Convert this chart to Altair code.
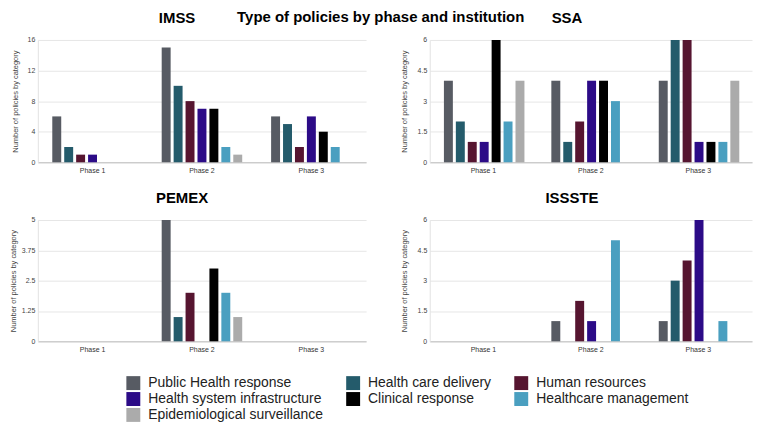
import altair as alt
import pandas as pd

phases = ["Phase 1", "Phase 2", "Phase 3"]
categories = [
    "Public Health response",
    "Health care delivery",
    "Human resources",
    "Health system infrastructure",
    "Clinical response",
    "Healthcare management",
    "Epidemiological surveillance",
]
colors = ["#575b63", "#245b6b", "#561530", "#2c0b87", "#000000", "#4a9fc0", "#ababab"]

imss_phase1 = [6, 2, 1, 1, 0, 0, 0]
imss_phase2 = [15, 10, 8, 7, 7, 2, 1]
imss_phase3 = [6, 5, 2, 6, 4, 2, 0]

ssa_phase1 = [4, 2, 1, 1, 6, 2, 4]
ssa_phase2 = [4, 1, 2, 4, 4, 3, 0]
ssa_phase3 = [4, 6, 6, 1, 1, 1, 4]

pemex_phase1 = [0, 0, 0, 0, 0, 0, 0]
pemex_phase2 = [5, 1, 2, 0, 3, 2, 1]
pemex_phase3 = [0, 0, 0, 0, 0, 0, 0]

issste_phase1 = [0, 0, 0, 0, 0, 0, 0]
issste_phase2 = [1, 0, 2, 1, 0, 5, 0]
issste_phase3 = [1, 3, 4, 6, 0, 1, 0]

imss_ticks = [0, 4, 8, 12, 16]
ssa_ticks = [0, 1.5, 3, 4.5, 6]
pemex_ticks = [0, 1.25, 2.5, 3.75, 5]
issste_ticks = [0, 1.5, 3, 4.5, 6]

y_title = "Number of policies by category"


def make_df(series):
    rows = []
    for ph, vals in zip(phases, series):
        for cat, v in zip(categories, vals):
            rows.append({"Phase": ph, "Category": cat, "Count": v})
    return pd.DataFrame(rows)


def panel(name, series, ticks, width, height, title_pad, dx):
    df = make_df(series)
    return (
        alt.Chart(df)
        .mark_bar()
        .encode(
            x=alt.X(
                "Phase:N",
                scale=alt.Scale(domain=phases, paddingInner=0.264, paddingOuter=0.132),
                axis=alt.Axis(
                    title=None, labelAngle=0, ticks=False, labelFontSize=7,
                    labelColor="#333333", labelPadding=4, domainColor="#bdbdbd",
                    grid=False,
                ),
            ),
            xOffset=alt.XOffset(
                "Category:N",
                scale=alt.Scale(domain=categories, paddingInner=0.25, paddingOuter=0),
            ),
            y=alt.Y(
                "Count:Q",
                scale=alt.Scale(domain=[ticks[0], ticks[-1]], nice=False),
                axis=alt.Axis(
                    values=ticks, format=".3~g", title=y_title, ticks=False,
                    labelFontSize=7, labelColor="#444444", labelPadding=3,
                    titleFontSize=7.5, titleFontWeight="normal", titleColor="#444444",
                    titlePadding=title_pad, gridColor="#e6e6e6", domainColor="#e2e2e2",
                ),
            ),
            color=alt.Color(
                "Category:N",
                scale=alt.Scale(domain=categories, range=colors),
                legend=alt.Legend(title=None),
            ),
        )
        .properties(
            width=width,
            height=height,
            title=alt.TitleParams(
                name, fontSize=15, fontWeight="bold", color="#000000",
                anchor="middle", frame="group", offset=10, dx=dx,
            ),
        )
    )


imss = panel("IMSS", [imss_phase1, imss_phase2, imss_phase3], imss_ticks, 330, 123, 8, -25)
ssa = panel("SSA", [ssa_phase1, ssa_phase2, ssa_phase3], ssa_ticks, 324, 123, 9, -24)
pemex = panel("PEMEX", [pemex_phase1, pemex_phase2, pemex_phase3], pemex_ticks, 330, 122, 4, -20)
issste = panel("ISSSTE", [issste_phase1, issste_phase2, issste_phase3], issste_ticks, 324, 122, 9, -19)

chart = (
    alt.concat(
        imss, ssa, pemex, issste,
        columns=2,
        spacing={"row": 58, "column": 64},
        bounds="flush",
        title=alt.TitleParams(
            "Type of policies by phase and institution", fontSize=15,
            fontWeight="bold", color="#000000", anchor="middle", offset=-14,
        ),
    )
    .properties(padding={"left": 0, "top": 0, "right": 0, "bottom": 0})
    .configure(font="Liberation Sans")
    .configure_view(stroke="transparent")
    .configure_legend(
        orient="none", direction="horizontal", legendX=89, legendY=338, columns=3,
        symbolType="square", symbolSize=196, symbolStrokeWidth=0, labelFontSize=14,
        labelLimit=400, labelOffset=8, columnPadding=23, rowPadding=2, padding=0,
        labelColor="#222222",
    )
)

chart.save("out.html", embed_options={"renderer": "svg", "actions": False})
